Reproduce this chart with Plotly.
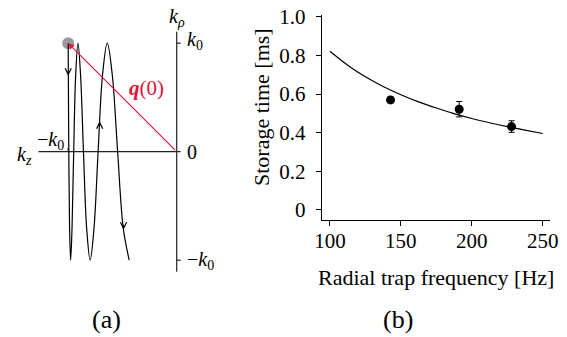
import plotly.graph_objects as go

W, H = 567, 337
FONT = "Liberation Serif, Times New Roman, Times, serif"

# ---------- Panel (a): schematic trajectory in momentum space (units of k0) ----------
traj_kz = [-1.0, -0.9986, -0.9944, -0.9873, -0.9775, -0.9648, -0.9494, -0.9311, -0.91,
           -0.8861, -0.8594, -0.8298, -0.7975, -0.7623, -0.7244, -0.6836, -0.64,
           -0.5936, -0.5444, -0.4923, -0.4375]
traj_krho = [1.0, 0.707, 0.0, -0.707, -1.0, -0.707, 0.0, 0.707, 1.0,
             0.707, 0.0, -0.707, -1.0, -0.707, 0.0, 0.707, 1.0,
             0.707, 0.0, -0.707, -1.0]
start_point = (-1.0, 1.0)
# direction arrows on trajectory: (kz, krho, direction)
arrow_kz = [-1.0, -0.71, -0.49]
arrow_krho = [0.70, 0.28, -0.72]
arrow_dir = [-1, 1, -1]

# ---------- Panel (b): storage time vs radial trap frequency ----------
freq = [142.7, 191.1, 228.0]
storage = [0.570, 0.522, 0.432]
storage_err = [0.015, 0.040, 0.030]
fit_freq = [100, 112.5, 125, 137.5, 150, 162.5, 175, 187.5, 200, 212.5, 225, 237.5, 250]
fit_time = [0.822, 0.750, 0.690, 0.640, 0.597, 0.560, 0.528, 0.499, 0.474, 0.452, 0.432, 0.414, 0.396]
x_ticks = [100, 150, 200, 250]
y_ticks = [0, 0.2, 0.4, 0.6, 0.8, 1.0]
y_ticklabels = ["0", "0.2", "0.4", "0.6", "0.8", "1.0"]

fig = go.Figure()

# panel (a) scale: origin at pixel (176.7, 151.7), k0 = 108.5 px
OX, OY, S = 176.7, 151.7, 108.5
xa_range = [(0 - OX) / S, (240 - OX) / S]
ya_range = [(OY - 300) / S, (OY - 0) / S]

# axes of panel (a)
ax_col = "#222222"
fig.add_trace(go.Scatter(x=[0, 0], y=[(OY - 31.7) / S, (OY - 271.7) / S], mode="lines",
                         line=dict(color=ax_col, width=1.2), xaxis="x", yaxis="y", hoverinfo="skip"))
fig.add_trace(go.Scatter(x=[(38.5 - OX) / S, 4.0 / S], y=[0, 0], mode="lines",
                         line=dict(color=ax_col, width=1.2), xaxis="x", yaxis="y", hoverinfo="skip"))
for yy in [1.0, -1.0]:
    fig.add_trace(go.Scatter(x=[0, 4.0 / S], y=[yy, yy], mode="lines",
                             line=dict(color=ax_col, width=1.2), xaxis="x", yaxis="y", hoverinfo="skip"))
fig.add_trace(go.Scatter(x=[-1.0, -1.0], y=[0, 4.0 / S], mode="lines",
                         line=dict(color=ax_col, width=1.2), xaxis="x", yaxis="y", hoverinfo="skip"))

# gray start point
fig.add_trace(go.Scatter(x=[start_point[0]], y=[start_point[1]], mode="markers",
                         marker=dict(color="#9a9a9a", size=12), xaxis="x", yaxis="y", hoverinfo="skip"))
# trajectory
fig.add_trace(go.Scatter(x=traj_kz, y=traj_krho, mode="lines",
                         line=dict(color="black", width=1.2, shape="spline", smoothing=1.0),
                         xaxis="x", yaxis="y", hoverinfo="skip"))

# direction arrowheads
for kz, kr, d in zip(arrow_kz, arrow_krho, arrow_dir):
    fig.add_annotation(x=kz, y=kr, ax=kz, ay=kr - d * 0.06, xref="x", yref="y", axref="x", ayref="y",
                       showarrow=True, arrowhead=5, arrowsize=1.1, arrowwidth=1.1, arrowcolor="black",
                       text="", standoff=0)

# red arrow q(0)
red = "#E0143C"
fig.add_annotation(x=start_point[0], y=start_point[1], ax=0, ay=0, xref="x", yref="y", axref="x", ayref="y",
                   showarrow=True, arrowhead=2, arrowsize=1.0, arrowwidth=1.2, arrowcolor=red, text="",
                   standoff=0)

# panel (b) traces
fig.add_trace(go.Scatter(x=fit_freq, y=fit_time, mode="lines",
                         line=dict(color="black", width=1.2, shape="spline"),
                         xaxis="x2", yaxis="y2", hoverinfo="skip"))
fig.add_trace(go.Scatter(x=freq, y=storage, mode="markers",
                         marker=dict(color="black", size=9),
                         error_y=dict(type="data", array=storage_err, color="black", thickness=1, width=3),
                         xaxis="x2", yaxis="y2"))


def px(x, y):
    return x / W, 1 - y / H


def text(x, y, s, size=20, color="black", xanchor="center", yanchor="middle", angle=0):
    xp, yp = px(x, y)
    fig.add_annotation(x=xp, y=yp, xref="paper", yref="paper", text=s, showarrow=False,
                       font=dict(family=FONT, size=size, color=color),
                       xanchor=xanchor, yanchor=yanchor, textangle=angle)


text(177, 18, "<i>k</i><sub><i>ρ</i></sub>")
text(185, 40, "<i>k</i><sub>0</sub>", xanchor="left")
text(185, 152, "0", xanchor="left")
text(185, 260, "−<i>k</i><sub>0</sub>", xanchor="left")
text(24, 155, "<i>k</i><sub><i>z</i></sub>")
text(66, 140, "−<i>k</i><sub>0</sub>", xanchor="right")
text(146, 88, "<b><i>q</i></b>(0)", size=21, color=red)

text(436, 277, "Radial trap frequency [Hz]", size=22)
text(262, 107, "Storage time [ms]", size=22, angle=-90)
text(106, 319, "(a)", size=26)
text(398, 319, "(b)", size=26)

fig.update_layout(
    width=W, height=H, margin=dict(l=0, r=0, t=0, b=0, autoexpand=False),
    paper_bgcolor="white", plot_bgcolor="white", showlegend=False,
    font=dict(family=FONT, color="black"),
    xaxis=dict(domain=[0, 240 / W], range=xa_range, visible=False),
    yaxis=dict(domain=[1 - 300 / H, 1], range=ya_range, visible=False),
    xaxis2=dict(domain=[321.7 / W, 550 / W], range=[94.2, 255.1], anchor="y2",
                showline=True, linecolor="black", linewidth=1, showgrid=False, zeroline=False,
                ticks="outside", ticklen=5, tickcolor="black", tickwidth=1,
                tickvals=x_ticks, ticklabelstandoff=-3, automargin=False,
                tickfont=dict(family=FONT, size=21, color="black")),
    yaxis2=dict(domain=[1 - 220 / H, 1 - 15 / H], range=[-0.052, 1.010], anchor="x2",
                showline=True, linecolor="black", linewidth=1, showgrid=False, zeroline=False,
                ticks="outside", ticklen=5, tickcolor="black", tickwidth=1,
                tickvals=y_ticks, ticktext=y_ticklabels, ticklabelstandoff=6, automargin=False,
                tickfont=dict(family=FONT, size=21, color="black")),
)

fig.write_html("out.html", config={"displayModeBar": False},
               post_script="document.body.style.margin='0';document.body.style.overflow='hidden';")
